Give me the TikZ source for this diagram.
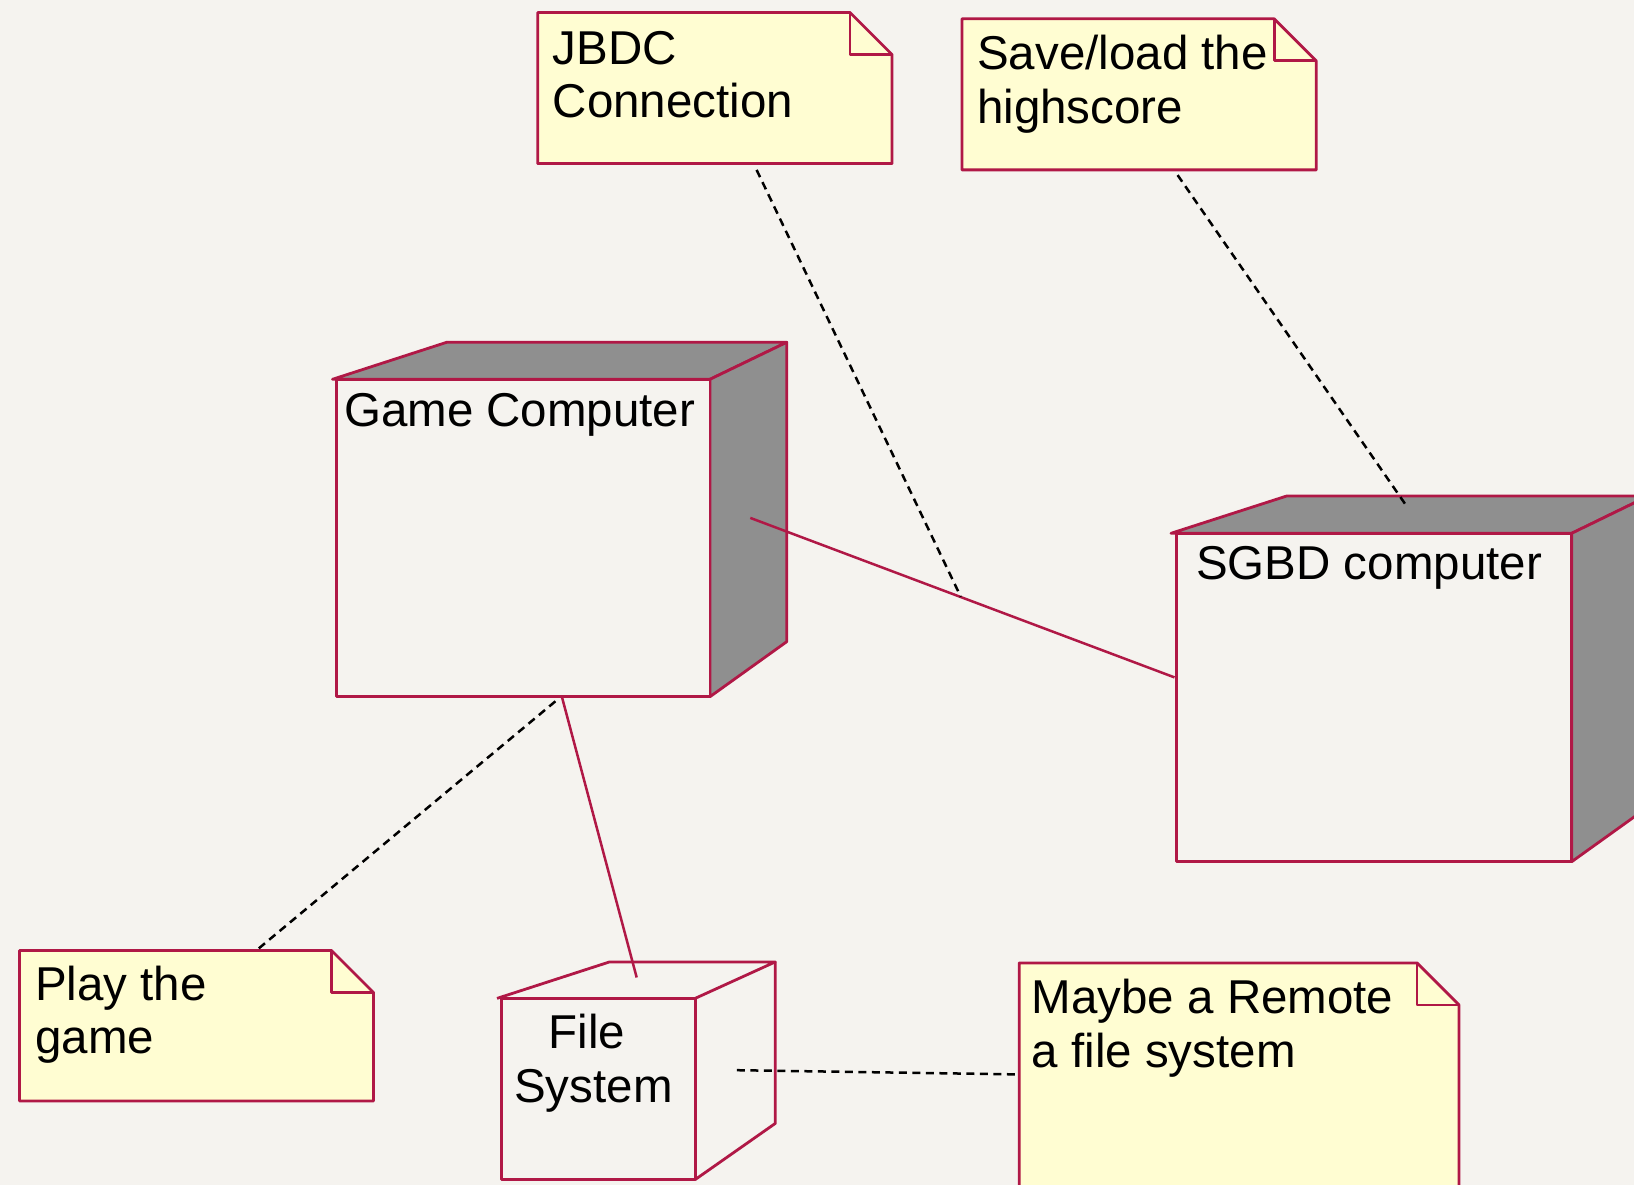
\documentclass[tikz,border=0pt]{standalone}
\usepackage{fontspec}
\setmainfont{Liberation Sans}
\definecolor{bg}{RGB}{245,243,239}
\definecolor{crim}{RGB}{176,24,70}
\definecolor{notefill}{RGB}{255,253,210}
\definecolor{face}{RGB}{143,143,143}
\tikzset{
  border/.style={draw=crim, line width=2.8pt, line join=round},
  assoc/.style={draw=crim, line width=2.5pt},
  anchorline/.style={draw=black, line width=2.5pt, dash pattern=on 8pt off 5.5pt},
  lbl/.style={font=\fontsize{47.5}{53}\selectfont, inner sep=0pt, anchor=base west, text=black},
  notebody/.style={border, fill=notefill},
}
\newcommand\umlnote[5]{%
  \path[notebody] (#2,#3) -- (#4-42,#3) -- (#4,#3+42) -- (#4,#5) -- (#2,#5) -- cycle;
  \draw[border] (#4-42,#3) -- (#4-42,#3+42) -- (#4,#3+42);
  \coordinate (#1) at ({(#2+#4)/2},{(#3+#5)/2});
}
\begin{document}
\begin{tikzpicture}[x=1pt,y=-1pt]
\useasboundingbox (0,0) rectangle (1634,1185);
\fill[bg] (0,0) rectangle (1634,1185);
\clip (0,0) rectangle (1634,1185);

% ---------- connector end points ----------
\coordinate (gcA) at (750.3,517.9);
\coordinate (sgA) at (1174.5,677.4);
\coordinate (assocMid) at (960.8,596.8);
\coordinate (jbdcA) at (756.6,169.9);
\coordinate (saveA) at (1177.6,175.1);
\coordinate (sgTop) at (1406.9,506.5);
\coordinate (gcB) at (561.7,696.1);
\coordinate (fsTop) at (636.7,977.5);
\coordinate (gcC) at (555.4,701.3);
\coordinate (playA) at (256.4,950.4);
\coordinate (fsR) at (736.8,1070.2);
\coordinate (maybeA) at (1018.1,1074.4);

% ---------- Game Computer node ----------
\path[border, fill=face] (332.5,379.3) -- (446.7,342.3) -- (786.7,342.3) -- (710,379.3) -- cycle;
\path[border, fill=face] (710,379.3) -- (786.7,342.3) -- (786.7,641.7) -- (710,696.7) -- cycle;
\path[border, fill=bg] (336.7,379.3) rectangle (710,696.7);
\node[lbl] (gcT) at (344,426) {Game Computer};

% ---------- SGBD computer node ----------
\path[border, fill=face] (1171,533.3) -- (1286.7,496) -- (1648.4,496) -- (1571.7,533.3) -- cycle;
\path[border, fill=face] (1571.7,533.3) -- (1648.4,496) -- (1648.4,806.7) -- (1571.7,861.7) -- cycle;
\path[border, fill=bg] (1176.7,533.3) rectangle (1571.7,861.7);
\node[lbl] (sgT) at (1196,579.3) {SGBD computer};

% ---------- File System node ----------
\path[border] (497,998.4) -- (609.6,961.9) -- (775.3,961.9) -- (695.1,998.4);
\path[border] (775.3,961.9) -- (775.3,1123.4) -- (695.1,1179.6);
\path[border] (501.3,998.4) rectangle (695.1,1179.6);
\node[lbl] (fsT1) at (548.5,1048.4) {File};
\node[lbl] (fsT2) at (514,1102.6) {System};

% ---------- notes ----------
\umlnote{jbdc}{537.7}{12.5}{892}{163.6}
\node[lbl] (jbdcT1) at (552.5,64.6) {JBDC};
\node[lbl] (jbdcT2) at (552.5,117.8) {Connection};

\umlnote{save}{961.9}{18.8}{1316.2}{169.9}
\node[lbl] (saveT1) at (977,69.8) {Save/load the};
\node[lbl] (saveT2) at (977,124) {highscore};

\umlnote{play}{19.5}{950.5}{373.5}{1101}
\node[lbl] (playT1) at (35,1000) {Play the};
\node[lbl] (playT2) at (35,1053.3) {game};

\umlnote{maybe}{1019.2}{962.9}{1459}{1230}
\node[lbl] (maybeT1) at (1031.5,1013) {Maybe a Remote};
\node[lbl] (maybeT2) at (1031.5,1067) {a file system};

% ---------- connectors ----------
\draw[assoc] (gcA) -- (sgA);
\draw[assoc] (gcB) -- (fsTop);
\draw[anchorline] (jbdcA) -- (assocMid);
\draw[anchorline] (saveA) -- (sgTop);
\draw[anchorline] (gcC) -- (playA);
\draw[anchorline] (fsR) -- (maybeA);
\end{tikzpicture}
\end{document}
